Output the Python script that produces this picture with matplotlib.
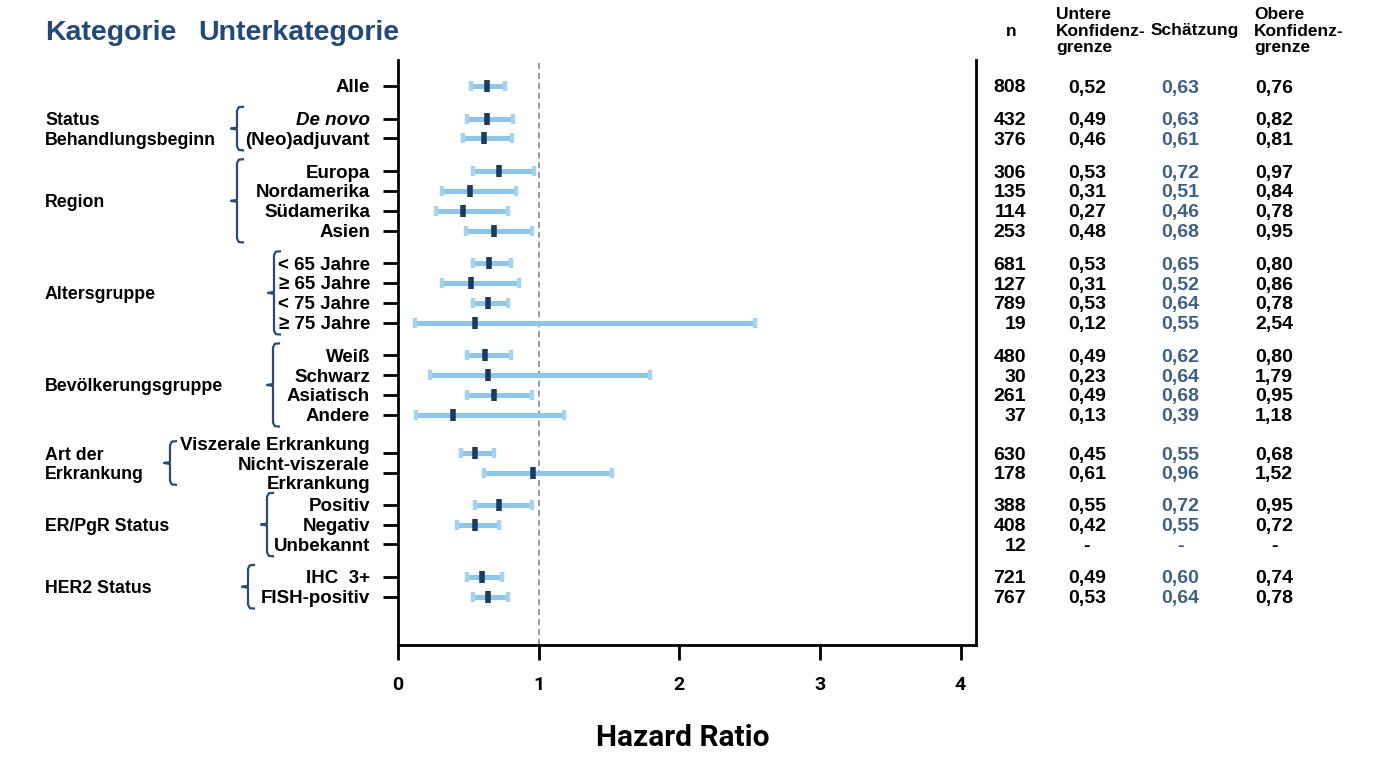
import numpy as np
import matplotlib
matplotlib.use("Agg")
import matplotlib.pyplot as plt
from matplotlib.transforms import blended_transform_factory

# DATA
group_names = ["", "Status\nBehandlungsbeginn", "Region", "Altersgruppe",
               "Bevölkerungsgruppe", "Art der\nErkrankung", "ER/PgR Status", "HER2 Status"]
group_sizes = [1, 2, 4, 4, 4, 2, 3, 2]
subgroups = ["Alle", "De novo", "(Neo)adjuvant",
             "Europa", "Nordamerika", "Südamerika", "Asien",
             "< 65 Jahre", "≥ 65 Jahre", "< 75 Jahre", "≥ 75 Jahre",
             "Weiß", "Schwarz", "Asiatisch", "Andere",
             "Viszerale Erkrankung", "Nicht-viszerale\nErkrankung",
             "Positiv", "Negativ", "Unbekannt",
             "IHC  3+", "FISH-positiv"]
n_values = [808, 432, 376, 306, 135, 114, 253, 681, 127, 789, 19,
            480, 30, 261, 37, 630, 178, 388, 408, 12, 721, 767]
nan = np.nan
lower = [0.52, 0.49, 0.46, 0.53, 0.31, 0.27, 0.48, 0.53, 0.31, 0.53, 0.12,
         0.49, 0.23, 0.49, 0.13, 0.45, 0.61, 0.55, 0.42, nan, 0.49, 0.53]
estimate = [0.63, 0.63, 0.61, 0.72, 0.51, 0.46, 0.68, 0.65, 0.52, 0.64, 0.55,
            0.62, 0.64, 0.68, 0.39, 0.55, 0.96, 0.72, 0.55, nan, 0.60, 0.64]
upper = [0.76, 0.82, 0.81, 0.97, 0.84, 0.78, 0.95, 0.80, 0.86, 0.78, 2.54,
         0.80, 1.79, 0.95, 1.18, 0.68, 1.52, 0.95, 0.72, nan, 0.74, 0.78]
x_ticks = [0, 1, 2, 3, 4]

# LAYOUT
W, H = 1386, 780
ROW_PX = 19.8
group_gaps = [0, 0.65, 0.65, 0.65, 0.65, 0.94, 0.61, 0.64]
brace_x = [None, 237, 237, 274, 273, 170, 267, 248]
label_shift = {"Viszerale Erkrankung": -0.5}
TXT_DY = 0.1  # nudge text down a little to sit on the tick

ypos = []
y = 0.0
group_rows = []
for gi, size in enumerate(group_sizes):
    y += group_gaps[gi]
    rows = []
    for k in range(size):
        if ypos:
            y += 1
        ypos.append(y)
        rows.append(y)
    group_rows.append(rows)
ypos = np.array(ypos)

LIGHT = "#8dc6e8"
CAP = "#a6d3ef"
NAVY = "#1b3b60"
BRACE = "#2b4b70"
TITLE = "#23497a"
EST_COL = "#3e5f86"
FONT = ["Liberation Sans", "DejaVu Sans"]
plt.rcParams["font.family"] = FONT

fig = plt.figure(figsize=(W / 100, H / 100), dpi=100)
ax = fig.add_axes([398 / W, 1 - 645 / H, (976 - 398) / W, (645 - 60) / H])

# forest plot
ax.hlines(ypos, lower, upper, color=LIGHT, lw=3.6, zorder=2)
ax.plot(lower, ypos, "|", ms=7.5, mew=3.2, color=CAP, zorder=3)
ax.plot(upper, ypos, "|", ms=7.5, mew=3.2, color=CAP, zorder=3)
ax.plot(estimate, ypos, "|", ms=8, mew=4, color=NAVY, zorder=4)
ax.axvline(1, color="#808080", lw=1.1, ls=(0, (4, 2.5)), zorder=1)

ax.set_xlim(0, 4.11)
ax.set_ylim((645 - 86) / ROW_PX, -(86 - 60) / ROW_PX)
ax.set_xticks(x_ticks)
ax.set_xticklabels([str(t) for t in x_ticks], fontfamily="Roboto",
                   fontweight="bold", fontsize=14)
ax.set_yticks(ypos)
ax.set_yticklabels([])
ax.tick_params(axis="x", length=11, width=2, pad=11, color="black")
ax.tick_params(axis="y", length=11, width=2)
ax.spines["top"].set_visible(False)
for s in ["left", "right", "bottom"]:
    ax.spines[s].set_linewidth(2)

fig.text(683 / W, 1 - 738 / H, "Hazard Ratio", fontfamily="Roboto",
         fontweight="bold", fontsize=21.5, ha="center", va="center")

tr = blended_transform_factory(fig.transFigure, ax.transData)

# title
fig.text(45 / W, 1 - 33 / H, "Kategorie", fontsize=20.5, fontweight="bold",
         color=TITLE, va="center")
fig.text(198 / W, 1 - 33 / H, "Unterkategorie", fontsize=20.5, fontweight="bold",
         color=TITLE, va="center")

# row labels
for lab, yy in zip(subgroups, ypos):
    style = "italic" if lab == "De novo" else "normal"
    ax.text(370 / W, yy + label_shift.get(lab, 0) + TXT_DY, lab, transform=tr,
            ha="right", va="center", fontsize=13.5, fontweight="bold",
            fontstyle=style, linespacing=1.18, clip_on=False)

# group labels and braces
for name, rows, bx in zip(group_names, group_rows, brace_x):
    if not name:
        continue
    mid = (rows[0] + rows[-1]) / 2
    ax.text(45 / W, mid + TXT_DY, name, transform=tr, ha="left", va="center",
            fontsize=12.8, fontweight="bold", linespacing=1.2, clip_on=False)
    top = rows[0] - 0.6
    bot = rows[-1] + 0.6
    dx = 6 / W
    dy = 4 / ROW_PX
    x0 = bx / W
    xs = [x0 + dx, x0 + dx * 0.3, x0, x0, x0 - dx, x0, x0, x0 + dx * 0.3, x0 + dx]
    ys = [top, top + dy * 0.1, top + dy, mid - 0.05, mid, mid + 0.05,
          bot - dy, bot - dy * 0.1, bot]
    ax.plot(xs, ys, color=BRACE, lw=1.6, transform=tr, clip_on=False,
            solid_joinstyle="round")

# table
def fmt(v):
    return "-" if np.isnan(v) else f"{v:.2f}".replace(".", ",")

tkw = dict(transform=tr, va="center_baseline", fontsize=14, fontweight="bold",
           clip_on=False)
for i, yy in enumerate(ypos):
    ax.text(1026 / W, yy, str(n_values[i]), ha="right", **tkw)
    ax.text(1087 / W, yy, fmt(lower[i]), ha="center", **tkw)
    ax.text(1180 / W, yy, fmt(estimate[i]), ha="center", color=EST_COL, **tkw)
    ax.text(1274 / W, yy, fmt(upper[i]), ha="center", **tkw)

hy = 1 - 31 / H
hkw = dict(va="center", fontsize=12.5, fontweight="bold", linespacing=1.1)
fig.text(1011 / W, hy, "n", ha="center", **hkw)
fig.text(1056 / W, hy, "Untere\nKonfidenz-\ngrenze", ha="left", **hkw)
fig.text(1151 / W, hy, "Schätzung", ha="left", **hkw)
fig.text(1254 / W, hy, "Obere\nKonfidenz-\ngrenze", ha="left", **hkw)

fig.savefig("out.png", dpi=100)
